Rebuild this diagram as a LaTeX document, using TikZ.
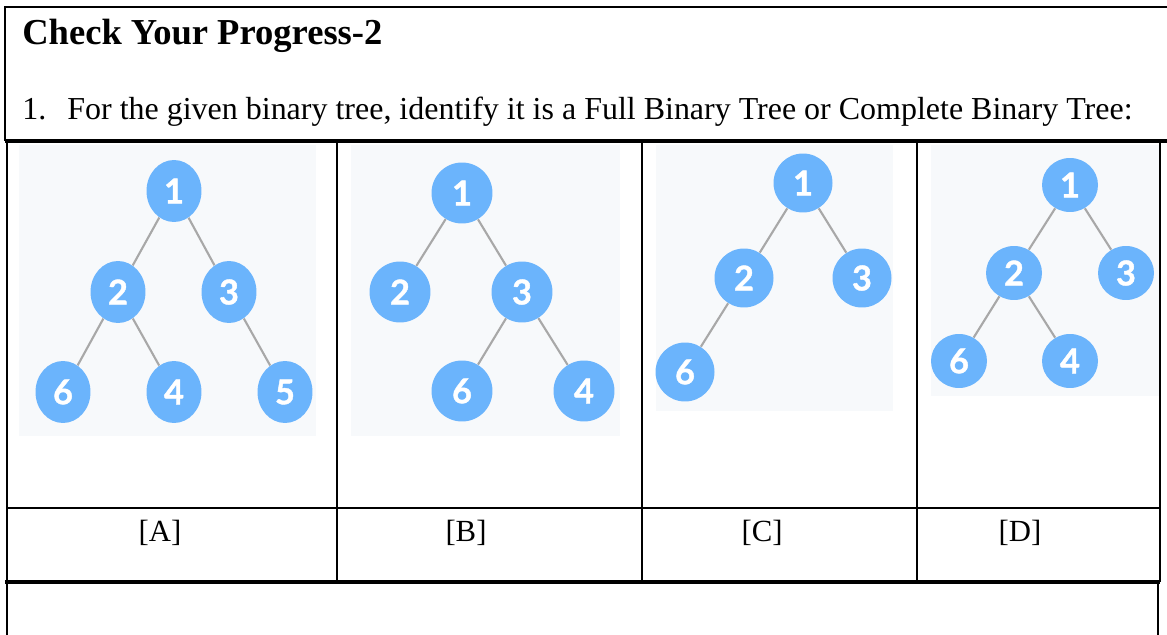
\documentclass[tikz,border=0pt]{standalone}
\usepackage{fontspec}
\setmainfont{Liberation Serif}
\newfontfamily\digitfont[BoldFeatures={FakeBold=1.2}]{Lato}
\usepackage{xcolor}
\usetikzlibrary{shapes.geometric}
\definecolor{nodeblue}{HTML}{6BB4FC}
\definecolor{edgegray}{HTML}{A8A8A8}
\definecolor{panelbg}{HTML}{F7F9FB}
\tikzset{
  treenode/.style={
    ellipse, fill=nodeblue, text=white, inner sep=0pt,
    font=\digitfont\bfseries\fontsize{19.5}{19.5}\selectfont,
  },
  treeedge/.style={draw=edgegray, line width=1.2pt},
  panel/.style={fill=panelbg, draw=none},
  rule/.style={line width=1.1pt},
  thickrule/.style={line width=2.3pt},
  lbl/.style={font=\fontsize{17.5}{20}\selectfont, anchor=base},
}

\begin{document}
\begin{tikzpicture}[x=0.02cm, y=-0.02cm]
  \useasboundingbox (0,0) rectangle (1167,635);

  % heading box
  \draw[rule] (5,141) |- (1167,7);
  \node[anchor=base west, inner sep=0pt, font=\bfseries\fontsize{20.8}{24}\selectfont] (title) at (22,45) {Check Your Progress-2};
  \node[anchor=base west, inner sep=0pt, font=\fontsize{18.2}{21}\selectfont] (qnum) at (22,120) {1.};
  \node[anchor=base west, inner sep=0pt, font=\fontsize{18.2}{21}\selectfont] (qtext) at (67,120) {For the given binary tree, identify it is a Full Binary Tree or Complete Binary Tree:};

  % table
  \draw[thickrule] (5,141) -- (1167,141);
  \draw[rule] (7,141) -- (7,582);
  \draw[rule] (337,141) -- (337,582);
  \draw[rule] (642,141) -- (642,582);
  \draw[rule] (917,141) -- (917,582);
  \draw[rule] (1160,141) -- (1160,582);
  \draw[rule] (7,508) -- (1160,508);
  \draw[thickrule] (5,582) -- (1160,582);
  \draw[rule] (7,582) -- (7,635);
  \draw[rule] (1158,582) -- (1158,635);

  % tree A
  \fill[panel] (19,145) rectangle (316,436);
  \begin{scope}[every node/.append style={minimum width=1.1cm, minimum height=1.24cm}]
    \node[treenode] (a1) at (174,191) {1};
    \node[treenode] (a2) at (118,292) {2};
    \node[treenode] (a3) at (229,292) {3};
    \node[treenode] (a6) at (63,392) {6};
    \node[treenode] (a4) at (174,392) {4};
    \node[treenode] (a5) at (285,392) {5};
  \end{scope}
  \draw[treeedge] (a1) -- (a2);
  \draw[treeedge] (a1) -- (a3);
  \draw[treeedge] (a2) -- (a6);
  \draw[treeedge] (a2) -- (a4);
  \draw[treeedge] (a3) -- (a5);

  % tree B
  \fill[panel] (351,145) rectangle (620,436);
  \begin{scope}[every node/.append style={minimum width=1.22cm, minimum height=1.22cm}]
    \node[treenode] (b1) at (462,193) {1};
    \node[treenode] (b2) at (400,292) {2};
    \node[treenode] (b3) at (522,292) {3};
    \node[treenode] (b6) at (462,391) {6};
    \node[treenode] (b4) at (584,391) {4};
  \end{scope}
  \draw[treeedge] (b1) -- (b2);
  \draw[treeedge] (b1) -- (b3);
  \draw[treeedge] (b3) -- (b6);
  \draw[treeedge] (b3) -- (b4);

  % tree C
  \fill[panel] (656,145) rectangle (893,411);
  \begin{scope}[every node/.append style={minimum width=1.18cm, minimum height=1.18cm}]
    \node[treenode] (c1) at (803,183) {1};
    \node[treenode] (c2) at (744,278) {2};
    \node[treenode] (c3) at (862,278) {3};
    \node[treenode] (c6) at (685,372) {6};
  \end{scope}
  \draw[treeedge] (c1) -- (c2);
  \draw[treeedge] (c1) -- (c3);
  \draw[treeedge] (c2) -- (c6);

  % tree D
  \fill[panel] (931,145) rectangle (1159,396);
  \begin{scope}[every node/.append style={minimum width=1.12cm, minimum height=1.08cm}]
    \node[treenode] (d1) at (1070,185) {1};
    \node[treenode] (d2) at (1014,273) {2};
    \node[treenode] (d3) at (1126,273) {3};
    \node[treenode] (d6) at (959,361) {6};
    \node[treenode] (d4) at (1070,361) {4};
  \end{scope}
  \draw[treeedge] (d1) -- (d2);
  \draw[treeedge] (d1) -- (d3);
  \draw[treeedge] (d2) -- (d6);
  \draw[treeedge] (d2) -- (d4);

  % captions
  \node[lbl] (capA) at (160,541) {[A]};
  \node[lbl] (capB) at (466,541) {[B]};
  \node[lbl] (capC) at (762,541) {[C]};
  \node[lbl] (capD) at (1020,541) {[D]};

\end{tikzpicture}
\end{document}
